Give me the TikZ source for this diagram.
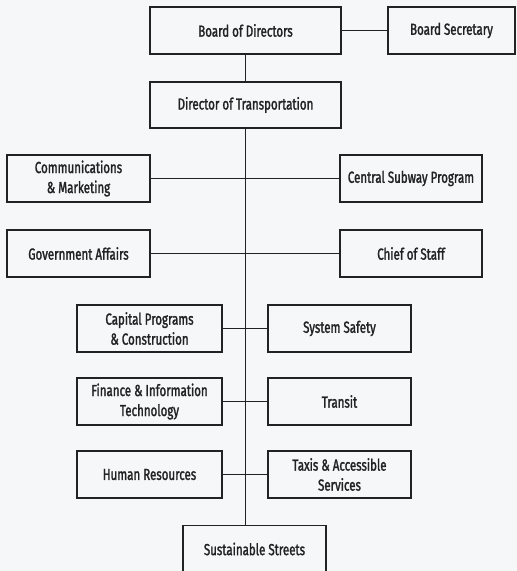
\documentclass[tikz,border=0pt]{standalone}
\usepackage{fontspec}
\setmainfont{Fira Sans}[FakeStretch=0.72,FakeBold=1.6]
\definecolor{ink}{HTML}{222222}
\definecolor{bg}{HTML}{F6F7F9}
\begin{document}
\begin{tikzpicture}[x=1pt,y=-1pt,
  box/.style={draw=ink,line width=1.3pt,fill=bg,minimum height=47pt,inner sep=2pt,
    align=center,text=ink,font=\fontsize{16}{20}\selectfont},
  conn/.style={draw=ink,line width=1.3pt}]
\fill[bg] (0,0) rectangle (517,571);
\useasboundingbox (0,0) rectangle (517,571);
\node[box,minimum width=191pt] (bod) at (245.5,30.5) {Board of Directors};
\node[box,minimum width=127pt] (sec) at (451.5,30.5) {Board Secretary};
\node[box,minimum width=191pt,minimum height=46pt] (dir) at (245.5,105) {Director of Transportation};
\node[box,minimum width=143pt] (com) at (78.5,178.5) {Communications\\\& Marketing};
\node[box,minimum width=142pt] (csp) at (411,178.5) {Central Subway Program};
\node[box,minimum width=143pt] (gov) at (78.5,253.5) {Government Affairs};
\node[box,minimum width=142pt] (cos) at (411,253.5) {Chief of Staff};
\node[box,minimum width=145pt] (cap) at (149.5,328.5) {Capital Programs\\\& Construction};
\node[box,minimum width=143pt] (saf) at (339.5,328.5) {System Safety};
\node[box,minimum width=145pt] (fin) at (149.5,401.5) {Finance \& Information\\Technology};
\node[box,minimum width=143pt] (tra) at (339.5,401.5) {Transit};
\node[box,minimum width=145pt] (hr) at (149.5,474.5) {Human Resources};
\node[box,minimum width=143pt] (tax) at (339.5,474.5) {Taxis \& Accessible\\Services};
\node[box,minimum width=143pt] (sus) at (254.5,549) {Sustainable Streets};
\draw[conn] (bod.east) -- (sec.west);
\draw[conn] (bod.south) -- (dir.north);
\draw[conn] (dir.south) -- (dir.south |- sus.north);
\draw[conn] (com.east) -- (csp.west);
\draw[conn] (gov.east) -- (cos.west);
\draw[conn] (cap.east) -- (saf.west);
\draw[conn] (fin.east) -- (tra.west);
\draw[conn] (hr.east) -- (tax.west);
\end{tikzpicture}
\end{document}
